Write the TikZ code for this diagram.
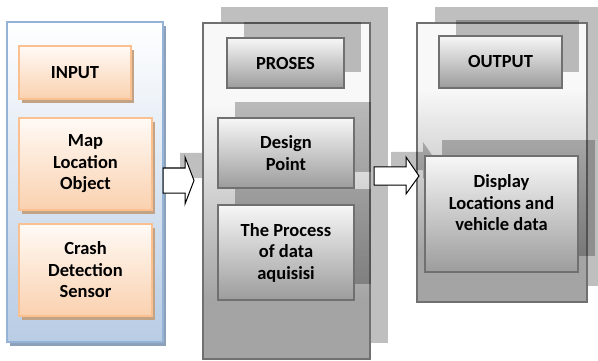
\documentclass[tikz,border=0pt]{standalone}
\usepackage{fontspec}
\setmainfont{Carlito}
\usetikzlibrary{shadows,calc}
\definecolor{inborder}{HTML}{95B3D7}
\definecolor{inbot}{HTML}{B8CCE4}
\definecolor{inshadow}{HTML}{8DA0BA}
\definecolor{pborder}{HTML}{FAC090}
\definecolor{ptop}{HTML}{FFFAF6}
\definecolor{pbot}{HTML}{FAD1AF}
\definecolor{pshadow}{HTML}{C2A386}
\definecolor{gborder}{HTML}{707070}
\definecolor{gbot}{HTML}{A4A4A4}
\definecolor{gtop}{HTML}{F8F8F8}
\definecolor{boxtop}{HTML}{F7F7F7}
\definecolor{boxbot}{HTML}{9C9C9C}
\pgfdeclareverticalshading{panelshade}{100bp}{color(0bp)=(gbot); color(34bp)=(gbot); color(63bp)=(gtop); color(100bp)=(gtop)}
\tikzset{
  txt/.style={font=\bfseries\fontsize{18.5}{21.5}\selectfont, align=center, text=black},
  inpanel/.style={draw=inborder, line width=1.5pt, top color=white, bottom color=inbot, outer sep=0pt, inner sep=0pt,
    drop shadow={shadow xshift=3pt, shadow yshift=-4pt, fill=inshadow, opacity=1}},
  inbox/.style={txt, draw=pborder, line width=1.5pt, top color=ptop, bottom color=pbot, outer sep=0pt, inner sep=0pt,
    drop shadow={shadow xshift=3pt, shadow yshift=-4pt, fill=pshadow, opacity=1}},
  graypanel/.style={draw=gborder, line width=1.6pt, shading=panelshade, outer sep=0pt, inner sep=0pt,
    drop shadow={shadow xshift=18pt, shadow yshift=16pt, fill=black, opacity=0.25}},
  graybox/.style={txt, draw=gborder, line width=1.6pt, top color=boxtop, bottom color=boxbot, outer sep=0pt, inner sep=0pt,
    drop shadow={shadow xshift=17pt, shadow yshift=16pt, fill=black, opacity=0.25}},
  blockarrow/.style={draw=black, line width=1pt, fill=white, line join=miter,
    drop shadow={shadow xshift=17pt, shadow yshift=15pt, fill=black, opacity=0.25}},
}
\begin{document}
\begin{tikzpicture}[x=1pt, y=-1pt]
\useasboundingbox (0,0) rectangle (598,361);
% input panel
\node[inpanel, anchor=north west, minimum width=156pt, minimum height=320pt] (inp) at (7,22) {};
\node[inbox, anchor=north west, minimum width=112pt, minimum height=53pt] (input) at (19,46) {INPUT};
\node[inbox, anchor=north west, minimum width=133pt, minimum height=92pt] (map) at (19,118) {Map\\Location\\Object};
\node[inbox, anchor=north west, minimum width=133pt, minimum height=92pt] (crash) at (19,224) {Crash\\Detection\\Sensor};
% arrow 1
\coordinate (a1) at (inp.east |- 0,180.5);
\draw[blockarrow] ($(a1)+(0,-12.5)$) -- ++(22,0) -- ++(0,-11) -- ($(a1)+(31,0)$) -- ($(a1)+(22,23.5)$) -- ++(0,-11) -- ($(a1)+(0,12.5)$) -- cycle;
% process panel
\node[graypanel, anchor=north west, minimum width=167pt, minimum height=336pt] (proc) at (203,23) {};
\node[graybox, anchor=north west, minimum width=117pt, minimum height=50pt] (proses) at (227,38) {PROSES};
\node[graybox, anchor=north west, minimum width=136pt, minimum height=70pt] (design) at (218,118) {Design\\Point};
\node[graybox, anchor=north west, minimum width=136pt, minimum height=95pt] (acq) at (218,205) {The Process\\of data\\aquisisi};
% output panel
\node[graypanel, anchor=north west, minimum width=170pt, minimum height=279pt] (outp) at (417,23) {};
% arrow 2
\coordinate (a2) at (374,176);
\draw[blockarrow] ($(a2)+(0,-9)$) -- ++(32,0) -- ++(0,-10) -- ($(a2)+(45,0)$) -- ($(a2)+(32,18)$) -- ++(0,-9) -- ($(a2)+(0,9)$) -- cycle;
\node[graybox, anchor=north west, minimum width=123pt, minimum height=52pt] (output) at (439,36) {OUTPUT};
\node[graybox, anchor=north west, minimum width=153pt, minimum height=116pt] (disp) at (425,156) {};
\node[txt] (disptxt) at ($(disp.center)+(0,-11)$) {Display\\Locations and\\vehicle data};
\end{tikzpicture}
\end{document}
